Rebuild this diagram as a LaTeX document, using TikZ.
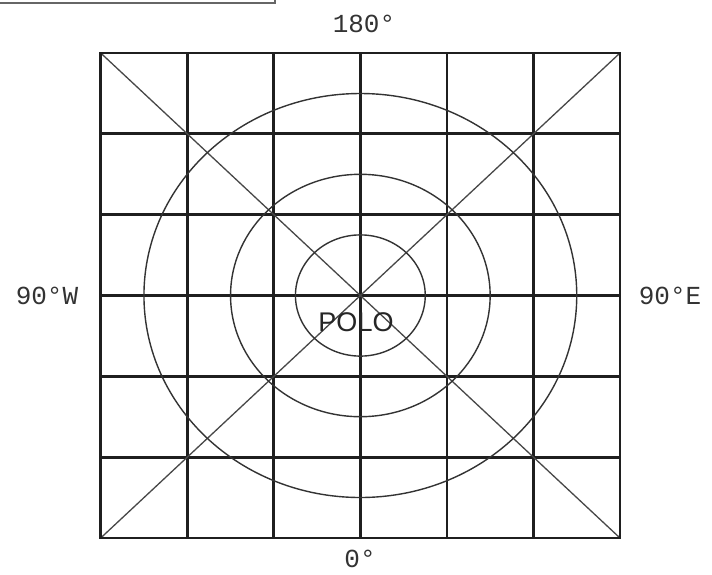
\documentclass[tikz,border=0pt]{standalone}
\usepackage{fontspec}
\newfontfamily\labfont{Liberation Mono}
\newfontfamily\polofont{Liberation Sans}
\begin{document}
\begin{tikzpicture}[x=1pt,y=-1pt,
  gridline/.style={line width=2.7pt, draw=black!88},
  diag/.style={line width=1.3pt, draw=black!72},
  ring/.style={line width=1.4pt, draw=black!80},
  lab/.style={font=\labfont\fontsize{26}{26}\selectfont, text=black!80, inner sep=0pt},
  polo/.style={font=\polofont\fontsize{27}{27}\selectfont, text=black!85, inner sep=0pt},
]
\useasboundingbox (0,0) rectangle (712,574);
\fill[white] (0,0) rectangle (712,574);
% cropped frame at top left
\draw[line width=1.5pt, black!60] (0,3) -- (275,3) -- (275,0);
% grid
\coordinate (nw) at (100.7,53);
\coordinate (ne) at (620,53);
\coordinate (sw) at (100.7,538);
\coordinate (se) at (620,538);
\coordinate (c) at (360.35,295.5);
\foreach \i in {1,...,5} {
  \draw[gridline] ({100.7+\i*86.55},53) -- ({100.7+\i*86.55},538);
  \draw[gridline] (100.7,{53+\i*80.83}) -- (620,{53+\i*80.83});
}
% diagonals
\draw[diag] (nw) -- (se);
\draw[diag] (ne) -- (sw);
% rings
\draw[ring] (c) ellipse [x radius=216.4, y radius=202];
\draw[ring] (c) ellipse [x radius=129.8, y radius=121.2];
\draw[ring] (c) ellipse [x radius=64.9, y radius=60.6];
% border
\draw[gridline, line join=miter] (nw) rectangle (se);
% labels
\node[lab] (top) at (364,24) {180°};
\node[lab] (bottom) at (360,559) {0°};
\node[lab] (west) at (47,296) {90°W};
\node[lab] (east) at (670,296) {90°E};
\node[polo] (pole) at (356,322) {POLO};
\end{tikzpicture}
\end{document}
